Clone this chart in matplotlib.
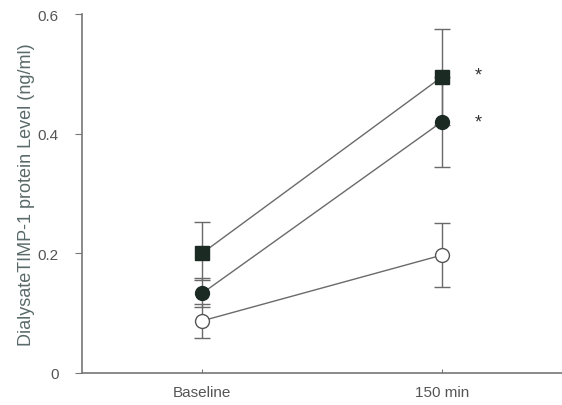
import matplotlib
matplotlib.use("Agg")
import matplotlib.pyplot as plt

plt.rcParams['font.family'] = ['Liberation Sans', 'DejaVu Sans']

categories = ["Baseline", "150 min"]
square_vals = [0.200, 0.495]
square_err_lo = [0.045, 0.080]
square_err_hi = [0.052, 0.080]
filled_vals = [0.133, 0.420]
filled_err_lo = [0.023, 0.075]
filled_err_hi = [0.025, 0.075]
open_vals = [0.087, 0.197]
open_err_lo = [0.029, 0.053]
open_err_hi = [0.028, 0.053]
star_y = [0.507, 0.428]
yticks = [0, 0.2, 0.4, 0.6]
ytick_labels = ["0", "0.2", "0.4", "0.6"]

fig = plt.figure(figsize=(5.62, 4.06), dpi=100)
ax = fig.add_axes([0.146, 0.079, 0.854, 0.884])
x = [0, 1]
line_col = "#6a6a6a"
mark_col = "#1c2a24"
ax.errorbar(x, square_vals, yerr=[square_err_lo, square_err_hi], fmt="s-", color=line_col,
            ecolor=line_col, elinewidth=1, capsize=6, capthick=1, lw=1,
            markersize=10, markerfacecolor=mark_col, markeredgecolor=mark_col, zorder=3)
ax.errorbar(x, filled_vals, yerr=[filled_err_lo, filled_err_hi], fmt="o-", color=line_col,
            ecolor=line_col, elinewidth=1, capsize=6, capthick=1, lw=1,
            markersize=10, markerfacecolor=mark_col, markeredgecolor=mark_col, zorder=3)
ax.errorbar(x, open_vals, yerr=[open_err_lo, open_err_hi], fmt="o-", color=line_col,
            ecolor=line_col, elinewidth=1, capsize=6, capthick=1, lw=1,
            markersize=10, markerfacecolor="white", markeredgecolor="#555555", zorder=3)
for yv in star_y:
    ax.annotate("*", xy=(1.15, yv), xytext=(0, -4), textcoords="offset points",
                ha="center", va="center", fontsize=13, color="#333333")

ax.set_xlim(-0.5, 1.5)
ax.set_ylim(0, 0.6)
ax.set_xticks(x)
ax.set_xticklabels(categories)
ax.set_yticks(yticks)
ax.set_yticklabels(ytick_labels)
for s in ["top", "right"]:
    ax.spines[s].set_visible(False)
for s in ["left", "bottom"]:
    ax.spines[s].set_color("#777777")
    ax.spines[s].set_linewidth(1.2)
ax.tick_params(axis="y", direction="out", length=5, color="#777777", labelsize=11,
               labelcolor="#555555", pad=12)
ax.tick_params(axis="x", direction="in", length=3, color="#777777", labelsize=11,
               labelcolor="#555555", pad=9)
ax.set_ylabel("DialysateTIMP-1 protein Level (ng/ml)", fontsize=13, color="#5a6a6a", labelpad=2)
fig.savefig("out.png", dpi=100)
